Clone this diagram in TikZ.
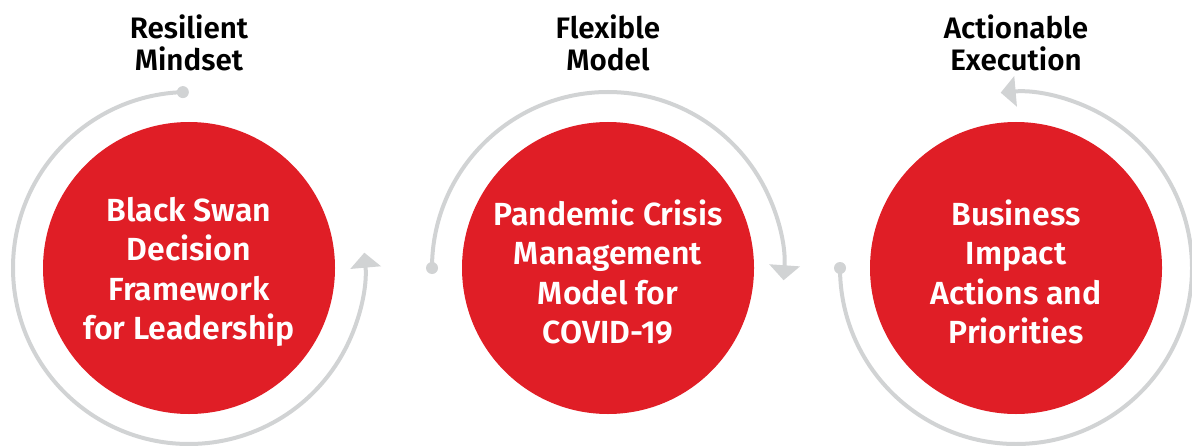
\documentclass[tikz,border=0pt]{standalone}
\usepackage{fontspec}
\setmainfont{Fira Sans}[BoldFont={Fira Sans SemiBold}]
\usetikzlibrary{arrows.meta}
\definecolor{swanred}{RGB}{224,30,38}
\definecolor{ringgrey}{RGB}{209,211,212}

\begin{document}
\begin{tikzpicture} [x=.5pt, y=.5pt,
  hub/.style={circle, fill=swanred, minimum size=146pt, inner sep=0},
  hubtext/.style={text=white, align=center, font=\bfseries\fontsize{16}{19.7}\selectfont},
  heading/.style={align=center, font=\bfseries\fontsize{14.8}{16}\selectfont},
  ring/.style={ringgrey, line width=2pt, -{Triangle[width=15pt,length=7.5pt]}},
  >=stealth]
\useasboundingbox (0,0) rectangle (1192,445);
% the three circles
\node[hub] (c1) at (189,177) {};
\node[hub] (c2) at (608,177) {};
\node[hub] (c3) at (1016,177) {};
\node[hubtext] (t1) at ([yshift=-2]c1.center) {Black Swan\\Decision\\Framework\\for Leadership};
\node[hubtext] (t2) at ([yshift=-2]c2.center) {Pandemic Crisis\\Management\\Model for\\COVID-19};
\node[hubtext] (t3) at ([yshift=-2]c3.center) {Business\\Impact\\Actions and\\Priorities};
% headings
\node[heading] (h1) at (189,402) {Resilient\\Mindset};
\node[heading] (h2) at (608,402) {Flexible\\Model};
\node[heading] (h3) at (1016,402) {Actionable\\Execution};
% arcs round the circles
\draw[ring] ([shift={(92:176)}]c1.center) coordinate (s1) arc[start angle=92, end angle=365, radius=176];
\draw[ring] ([shift={(180:176)}]c2.center) coordinate (s2) arc[start angle=180, end angle=-4, radius=176];
\draw[ring] ([shift={(180:176)}]c3.center) coordinate (s3) arc[start angle=180, end angle=455, radius=176];
\foreach \s in {s1,s2,s3}
  \fill[ringgrey] (\s) circle[radius=6];
\end{tikzpicture}
\end{document}
